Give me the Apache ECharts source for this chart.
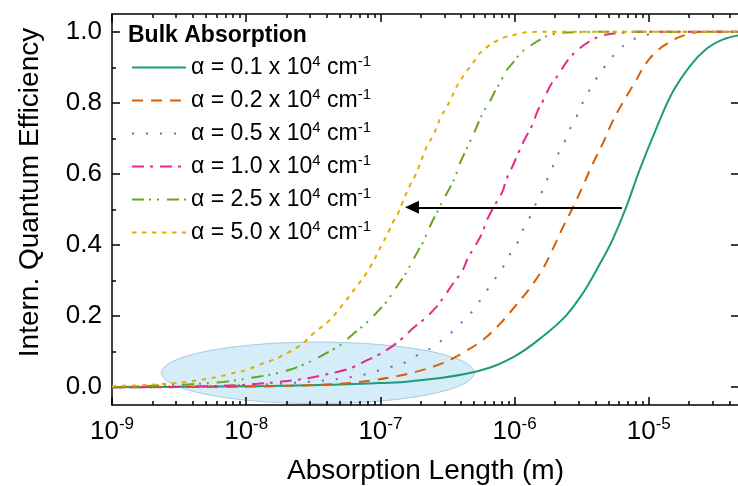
<!DOCTYPE html>
<html>
<head>
<meta charset="utf-8">
<script src="https://cdn.jsdelivr.net/npm/echarts@6/dist/echarts.min.js"></script>
<style>
  html, body { margin: 0; padding: 0; background: #fff; }
  #main { width: 738px; height: 486px; }
</style>
</head>
<body>
<div id="main"></div>
<script>
// x values are log10 of the absorption length in m, y is the internal QE
var alphaLabels = ['0.1', '0.2', '0.5', '1.0', '2.5', '5.0'];

var iqeA01 = [[-9, 0], [-8.5, 0.001], [-8, 0.003], [-7.45, 0.006], [-7, 0.012], [-6.77, 0.017],
  [-6.3, 0.043], [-6.01, 0.085], [-5.76, 0.152], [-5.62, 0.2], [-5.51, 0.254], [-5.44, 0.296],
  [-5.36, 0.35], [-5.27, 0.415], [-5.17, 0.505], [-5.07, 0.61], [-4.94, 0.732], [-4.82, 0.832],
  [-4.69, 0.905], [-4.57, 0.952], [-4.45, 0.978], [-4.33, 0.99]];

var iqeA02 = [[-9, 0], [-8.1, 0.001], [-7.76, 0.003], [-7.57, 0.005], [-7.39, 0.008], [-7.23, 0.012],
  [-7.05, 0.02], [-6.88, 0.031], [-6.71, 0.046], [-6.54, 0.067], [-6.39, 0.096], [-6.24, 0.132],
  [-6.12, 0.174], [-6.0, 0.226], [-5.89, 0.277], [-5.79, 0.333], [-5.72, 0.385], [-5.64, 0.45],
  [-5.56, 0.51], [-5.49, 0.567], [-5.42, 0.627], [-5.34, 0.688], [-5.27, 0.748], [-5.19, 0.803],
  [-5.1, 0.86], [-5.01, 0.917], [-4.88, 0.963], [-4.72, 0.992], [-4.57, 1.0], [-4.33, 1.0]];

var iqeA05 = [[-9, 0], [-8.34, 0.003], [-8, 0.006], [-7.75, 0.01], [-7.44, 0.018], [-7.23, 0.028],
  [-7.13, 0.035], [-7.03, 0.045], [-6.93, 0.056], [-6.82, 0.069], [-6.74, 0.087], [-6.65, 0.104],
  [-6.56, 0.127], [-6.48, 0.151], [-6.41, 0.177], [-6.33, 0.207], [-6.27, 0.237], [-6.21, 0.27],
  [-6.15, 0.303], [-6.09, 0.336], [-6.04, 0.371], [-5.98, 0.405], [-5.94, 0.441], [-5.89, 0.476],
  [-5.85, 0.51], [-5.8, 0.547], [-5.76, 0.582], [-5.72, 0.617], [-5.68, 0.653], [-5.63, 0.689],
  [-5.59, 0.725], [-5.54, 0.76], [-5.5, 0.795], [-5.45, 0.83], [-5.4, 0.863], [-5.34, 0.896],
  [-5.28, 0.926], [-5.21, 0.954], [-5.12, 0.978], [-5.01, 0.992], [-4.91, 0.999], [-4.33, 1.0]];

var iqeA10 = [[-9, 0], [-8.51, 0.001], [-8.29, 0.003], [-8.06, 0.006], [-7.87, 0.011], [-7.76, 0.015],
  [-7.64, 0.02], [-7.53, 0.026], [-7.43, 0.034], [-7.32, 0.043], [-7.2, 0.057], [-7.11, 0.074],
  [-7.02, 0.09], [-6.92, 0.113], [-6.83, 0.14], [-6.76, 0.165], [-6.67, 0.193], [-6.59, 0.223],
  [-6.52, 0.258], [-6.46, 0.291], [-6.39, 0.327], [-6.35, 0.362], [-6.3, 0.394], [-6.24, 0.435],
  [-6.21, 0.467], [-6.15, 0.511], [-6.09, 0.551], [-6.06, 0.586], [-6.01, 0.626], [-5.97, 0.661],
  [-5.92, 0.701], [-5.87, 0.736], [-5.83, 0.776], [-5.78, 0.812], [-5.73, 0.851], [-5.67, 0.881],
  [-5.61, 0.917], [-5.54, 0.945], [-5.45, 0.971], [-5.34, 0.99], [-5.24, 0.996], [-5.07, 1.0], [-4.33, 1.0]];

var iqeA25 = [[-9, 0], [-8.71, 0.004], [-8.43, 0.008], [-8.17, 0.015], [-7.92, 0.029], [-7.76, 0.04],
  [-7.66, 0.051], [-7.57, 0.064], [-7.5, 0.076], [-7.43, 0.09], [-7.34, 0.109], [-7.28, 0.124],
  [-7.22, 0.144], [-7.09, 0.186], [-7.03, 0.209], [-6.95, 0.242], [-6.91, 0.265], [-6.85, 0.298],
  [-6.8, 0.327], [-6.77, 0.349], [-6.72, 0.383], [-6.68, 0.41], [-6.65, 0.436], [-6.61, 0.469],
  [-6.56, 0.505], [-6.53, 0.528], [-6.48, 0.563], [-6.44, 0.594], [-6.42, 0.619], [-6.38, 0.653],
  [-6.31, 0.709], [-6.27, 0.744], [-6.23, 0.776], [-6.19, 0.8], [-6.15, 0.83], [-6.1, 0.863],
  [-6.07, 0.886], [-6.01, 0.914], [-5.95, 0.942], [-5.89, 0.959], [-5.8, 0.98], [-5.72, 0.993],
  [-5.54, 0.999], [-5.22, 1.0], [-4.33, 1.0]];

var iqeA50 = [[-9, 0.003], [-8.91, 0.004], [-8.76, 0.006], [-8.52, 0.012], [-8.44, 0.015], [-8.36, 0.02],
  [-8.29, 0.024], [-8.21, 0.029], [-8.13, 0.037], [-8.05, 0.043], [-7.98, 0.051], [-7.91, 0.062],
  [-7.83, 0.073], [-7.76, 0.083], [-7.69, 0.097], [-7.62, 0.112], [-7.56, 0.129], [-7.5, 0.151],
  [-7.38, 0.188], [-7.28, 0.233], [-7.18, 0.282], [-7.09, 0.329], [-6.98, 0.408], [-6.94, 0.436],
  [-6.91, 0.462], [-6.87, 0.488], [-6.84, 0.516], [-6.78, 0.568], [-6.74, 0.596], [-6.71, 0.624],
  [-6.68, 0.653], [-6.65, 0.681], [-6.61, 0.706], [-6.58, 0.732], [-6.55, 0.76], [-6.51, 0.786],
  [-6.47, 0.814], [-6.44, 0.84], [-6.4, 0.865], [-6.36, 0.888], [-6.31, 0.912], [-6.27, 0.935],
  [-6.21, 0.956], [-6.14, 0.973], [-6.07, 0.985], [-5.98, 0.993], [-5.9, 0.999], [-5.75, 1.0], [-4.33, 1.0]];

var xMajor = [1e-9, 1e-8, 1e-7, 1e-6, 1e-5];
var xMinor = [];
xMajor.forEach(function (d) {
  for (var k = 2; k <= 9; k++) { if (k * d < 4.7e-5) xMinor.push(k * d); }
});
var yMajor = [0, 0.2, 0.4, 0.6, 0.8, 1.0];
var yMinor = [0.1, 0.3, 0.5, 0.7, 0.9];

// annotations (data coordinates)
var arrowFrom = [6.3e-6, 0.506];
var arrowTo = [1.72e-7, 0.506];
var ellipseX = [2.34e-9, 5.0e-7];
var ellipseY = [-0.046, 0.127];

var FONT = 'Liberation Sans';
var colors = ['#1b9e77', '#d95f02', '#7570b3', '#e7298a', '#66a61e', '#e6ab02'];
var dashes = ['solid', [11, 8], [2, 12], [12, 6, 3, 7], [12, 5, 2, 6, 2, 8], [4.5, 5.5]];
var curves = [iqeA01, iqeA02, iqeA05, iqeA10, iqeA25, iqeA50];

function toPoints(arr) {
  return arr.map(function (p) { return [Math.pow(10, p[0]), p[1]]; });
}

var chart = echarts.init(document.getElementById('main'));

var tickStyle = { color: '#000', width: 1.5 };
var xBase = { type: 'log', logBase: 10, min: 1e-9, max: 4.7e-5, gridIndex: 0,
  splitLine: { show: false }, axisLine: { show: false, onZero: false }, axisLabel: { show: false } };
var yBase = { type: 'value', min: -0.05, max: 1.05, gridIndex: 0,
  splitLine: { show: false }, axisLine: { show: false, onZero: false }, axisLabel: { show: false } };

var series = curves.map(function (c, i) {
  var s = {
    name: 'a' + i,
    type: 'line',
    data: toPoints(c),
    symbol: 'none',
    smooth: 0.4,
    lineStyle: { color: colors[i], width: 2, type: dashes[i] },
    itemStyle: { color: colors[i] },
    z: 3
  };
  if (i === 0) {
    s.markLine = {
      silent: true,
      symbol: ['none', 'triangle'],
      symbolSize: [13, 14],
      label: { show: false },
      lineStyle: { color: '#000', width: 2, type: 'solid' },
      data: [[{ coord: arrowFrom }, { coord: arrowTo }]]
    };
  }
  return s;
});

chart.setOption({
  animation: false,
  textStyle: { fontFamily: FONT },
  title: {
    text: 'Bulk Absorption', left: 123, top: 19,
    textStyle: { fontFamily: FONT, fontWeight: 'bold', fontSize: 23, color: '#000' }
  },
  legend: {
    orient: 'vertical', left: 126, top: 49,
    itemWidth: 54, itemHeight: 12, itemGap: 8,
    itemStyle: { color: 'rgba(0,0,0,0)', borderWidth: 0, opacity: 0 },
    data: series.map(function (s) { return s.name; }),
    formatter: function (name) {
      var i = +name.slice(1);
      return '{t|\u03b1 = ' + alphaLabels[i] + ' x 10}{s|4}{t| cm}{s|-1}';
    },
    textStyle: {
      color: '#000',
      rich: {
        t: { fontFamily: FONT, fontSize: 23, color: '#000', lineHeight: 27 },
        s: { fontFamily: FONT, fontSize: 15, color: '#000', padding: [0, 0, 12, 0] }
      }
    }
  },
  grid: { left: 112, top: 14, right: -1, bottom: 81, containLabel: false, outerBoundsMode: 'none' },
  xAxis: [
    Object.assign({}, xBase, {
      position: 'bottom',
      axisLine: { show: true, onZero: false, lineStyle: tickStyle },
      axisTick: { show: true, inside: true, length: 8, customValues: xMajor, lineStyle: tickStyle },
      axisLabel: {
        show: true, margin: 11, customValues: xMajor,
        formatter: function (v) { return '{b|10}{s|' + Math.round(Math.log10(v)) + '}'; },
        rich: {
          b: { fontFamily: FONT, fontSize: 26, color: '#000' },
          s: { fontFamily: FONT, fontSize: 17, color: '#000', padding: [0, 0, 15, 0] }
        }
      },
      name: 'Absorption Length (m)', nameLocation: 'middle', nameGap: 52,
      nameTextStyle: { fontFamily: FONT, fontSize: 28, color: '#000' }
    }),
    Object.assign({}, xBase, {
      position: 'bottom',
      axisTick: { show: true, inside: true, length: 4, customValues: xMinor, lineStyle: tickStyle }
    }),
    Object.assign({}, xBase, {
      position: 'top',
      axisLine: { show: true, onZero: false, lineStyle: tickStyle },
      axisTick: { show: true, inside: true, length: 8, customValues: xMajor, lineStyle: tickStyle }
    }),
    Object.assign({}, xBase, {
      position: 'top',
      axisTick: { show: true, inside: true, length: 4, customValues: xMinor, lineStyle: tickStyle }
    })
  ],
  yAxis: [
    Object.assign({}, yBase, {
      position: 'left',
      axisLine: { show: true, onZero: false, lineStyle: tickStyle },
      axisTick: { show: true, inside: true, length: 8, customValues: yMajor, lineStyle: tickStyle },
      axisLabel: {
        show: true, margin: 10, customValues: yMajor,
        formatter: function (v) { return v.toFixed(1); },
        fontFamily: FONT, fontSize: 26, color: '#000'
      },
      name: 'Intern. Quantum Efficiency', nameLocation: 'middle', nameGap: 68,
      nameTextStyle: { fontFamily: FONT, fontSize: 28, color: '#000', padding: [0, 0, 0, 34] }
    }),
    Object.assign({}, yBase, {
      position: 'left',
      axisTick: { show: true, inside: true, length: 4, customValues: yMinor, lineStyle: tickStyle }
    }),
    Object.assign({}, yBase, {
      position: 'right',
      axisLine: { show: true, onZero: false, lineStyle: tickStyle },
      axisTick: { show: true, inside: true, length: 8, customValues: yMajor, lineStyle: tickStyle }
    })
  ],
  series: series
});

// shaded ellipse marking the low-efficiency region, placed from data coordinates
var p0 = chart.convertToPixel({ xAxisIndex: 0, yAxisIndex: 0 }, [ellipseX[0], ellipseY[0]]);
var p1 = chart.convertToPixel({ xAxisIndex: 0, yAxisIndex: 0 }, [ellipseX[1], ellipseY[1]]);
chart.setOption({
  graphic: [{
    type: 'ellipse', silent: true, z: 0,
    shape: { cx: (p0[0] + p1[0]) / 2, cy: (p0[1] + p1[1]) / 2,
      rx: Math.abs(p1[0] - p0[0]) / 2, ry: Math.abs(p1[1] - p0[1]) / 2 },
    style: { fill: '#d5ecf9', stroke: '#a9c9dc', lineWidth: 1 }
  }]
});
</script>
</body>
</html>
